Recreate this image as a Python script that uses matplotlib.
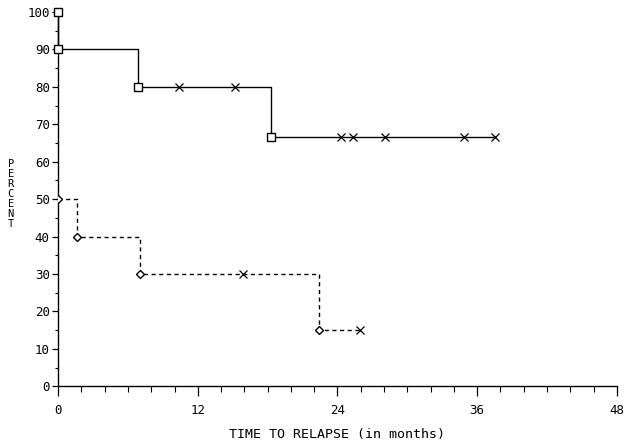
import matplotlib
matplotlib.use("Agg")
import matplotlib.pyplot as plt
from matplotlib.ticker import MultipleLocator

# Group A (solid): event times / survival percent, censored times
a_event_t = [0, 0, 6.9, 18.3]
a_event_pct = [100, 90, 80, 66.7]
a_censor_t = [10.4, 15.2, 24.3, 25.3, 28.1, 34.9, 37.5]
a_last_t = 37.5

# Group B (dashed)
b_event_t = [0, 1.6, 7.0, 22.4]
b_event_pct = [50, 40, 30, 15]
b_censor_t = [15.9, 25.9]
b_last_t = 25.9

x_ticks = [0, 12, 24, 36, 48]
y_ticks = [0, 10, 20, 30, 40, 50, 60, 70, 80, 90, 100]


def pct_at(t, times, pcts):
    val = pcts[0]
    for tt, pp in zip(times, pcts):
        if tt <= t:
            val = pp
    return val


fig = plt.figure(figsize=(6.32, 4.46), dpi=100)
ax = fig.add_axes([0.092, 0.134, 0.884, 0.839])

tfont = {"family": "DejaVu Sans Mono", "size": 9}

# Group A step curve
xs = a_event_t + [a_last_t]
ys = a_event_pct + [a_event_pct[-1]]
ax.step(xs, ys, where="post", color="black", lw=1.0, clip_on=False)
ax.plot(a_event_t, a_event_pct, ls="none", marker="s", ms=6, mfc="white",
        mec="black", mew=1.0, clip_on=False, zorder=5)
ax.plot(a_censor_t, [pct_at(t, a_event_t, a_event_pct) for t in a_censor_t],
        ls="none", marker="x", ms=6, color="black", mew=0.9, zorder=5)

# Group B step curve
xs = b_event_t + [b_last_t]
ys = b_event_pct + [b_event_pct[-1]]
ax.step(xs, ys, where="post", color="black", lw=1.0, ls=(0, (3, 2.5)))
ax.plot(b_event_t, b_event_pct, ls="none", marker="D", ms=4.5, mfc="white",
        mec="black", mew=1.0, zorder=5)
ax.plot(b_censor_t, [pct_at(t, b_event_t, b_event_pct) for t in b_censor_t],
        ls="none", marker="x", ms=6, color="black", mew=0.9, zorder=5)

ax.set_xlim(0, 48)
ax.set_ylim(0, 100)
ax.spines["top"].set_visible(False)
ax.spines["right"].set_visible(False)
ax.spines["left"].set_linewidth(1.0)
ax.spines["bottom"].set_linewidth(1.0)

ax.set_xticks(x_ticks)
ax.set_xticklabels([str(v) for v in x_ticks], **tfont)
ax.xaxis.set_minor_locator(MultipleLocator(2))
ax.set_yticks(y_ticks)
ax.set_yticklabels([str(v) for v in y_ticks], **tfont)
ax.yaxis.set_minor_locator(MultipleLocator(5))
ax.tick_params(axis="x", which="major", direction="out", length=7, width=0.9, pad=6)
ax.tick_params(axis="x", which="minor", direction="out", length=4, width=0.8)
ax.tick_params(axis="y", which="major", direction="out", length=4, width=0.9, pad=2)
ax.tick_params(axis="y", which="minor", direction="out", length=2, width=0.8)

ax.set_xlabel("TIME TO RELAPSE (in months)", labelpad=8,
              family="DejaVu Sans Mono", size=9.5)
fig.text(0.017, 0.565, "\n".join("PERCENT"), ha="center", va="center",
         family="DejaVu Sans Mono", size=7.5, linespacing=1.0)

fig.savefig("out.png", dpi=100)
